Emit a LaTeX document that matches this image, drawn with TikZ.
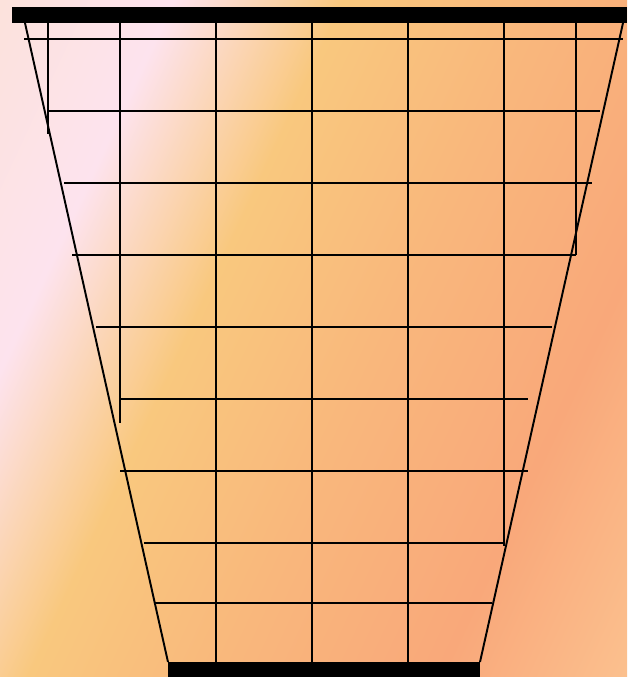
\documentclass[tikz,border=0pt]{standalone}
\usetikzlibrary{calc}

\definecolor{bgA}{HTML}{FCE2DC}
\definecolor{bgB}{HTML}{FDE3EE}
\definecolor{bgC}{HTML}{F9C87E}
\definecolor{bgD}{HTML}{F9B77C}
\definecolor{bgE}{HTML}{F9A87A}
\definecolor{bgF}{HTML}{FBC08E}
\pgfdeclarehorizontalshading{backdrop}{100bp}{color(0bp)=(bgA); color(17bp)=(bgA); color(29bp)=(bgB); color(41bp)=(bgC); color(55bp)=(bgD); color(70bp)=(bgE); color(83bp)=(bgF); color(100bp)=(bgF)}

\begin{document}
\begin{tikzpicture}[
x=0.02cm, y=-0.02cm,
rung/.style={line width=1.1pt},
side/.style={line width=1.1pt},
bar/.style={fill=black}
]
\shade[shading=backdrop, shading angle=-25] (0,0) rectangle (627,677);
\useasboundingbox (0,0) rectangle (627,677);
\coordinate (topleft) at (25,23);
\coordinate (topright) at (623,23);
\coordinate (botleft) at (168,662);
\coordinate (botright) at (480,662);
\foreach \x/\ya/\yb in {48/23/134, 120/23/423, 216/23/662, 312/23/662, 408/23/662, 504/23/546, 576/23/255}
  \draw[rung] (\x,\ya) -- (\x,\yb);
\foreach \y/\xa/\xb in {39/24/623, 111/48/600, 183/64/592, 255/72/576, 327/96/552, 399/120/528, 471/120/528, 543/144/504, 603/155/492}
  \draw[rung] (\xa,\y) -- (\xb,\y);
\draw[side] (topleft) -- (botleft);
\draw[side] (topright) -- (botright);
\fill[bar] (12,7) rectangle (627,23);
\fill[bar] (168,662) rectangle (480,677);
\end{tikzpicture}
\end{document}
